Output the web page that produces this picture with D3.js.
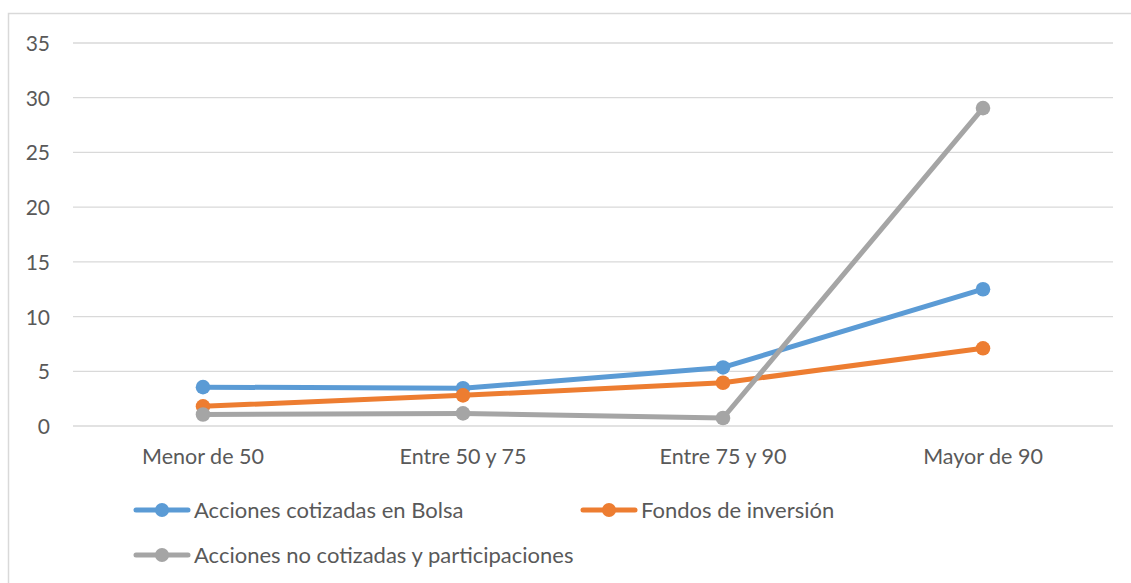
<!DOCTYPE html>
<html>
<head>
<meta charset="utf-8">
<script src="https://cdn.jsdelivr.net/npm/d3@7"></script>
<style>
  body { margin: 0; background: #fff; }
  text { font-family: Lato, "Open Sans", sans-serif; fill: #595959; }
</style>
</head>
<body>
<div id="chart"></div>
<script>
const width = 1131;
const height = 583;

const categories = ["Menor de 50", "Entre 50 y 75", "Entre 75 y 90", "Mayor de 90"];
const seriesNames = ["Acciones cotizadas en Bolsa", "Fondos de inversión", "Acciones no cotizadas y participaciones"];
const cotizadas = [3.55, 3.45, 5.35, 12.5];
const fondos = [1.8, 2.8, 3.95, 7.1];
const noCotizadas = [1.05, 1.15, 0.73, 29.05];
const yTicks = [0, 5, 10, 15, 20, 25, 30, 35];
const colors = ["#5B9BD5", "#ED7D31", "#A5A5A5"];

const series = [cotizadas, fondos, noCotizadas].map((values, i) => ({
  name: seriesNames[i],
  color: colors[i],
  values: values
}));

const margin = { left: 73, right: 18, top: 43, bottom: 157 };

const svg = d3.select("#chart")
  .append("svg")
  .attr("width", width)
  .attr("height", height);

// chart area border
svg.append("rect")
  .attr("x", 8.5)
  .attr("y", 13.5)
  .attr("width", width)
  .attr("height", height)
  .attr("fill", "none")
  .attr("stroke", "#d9d9d9")
  .attr("stroke-width", 1.5);

const x = d3.scaleBand()
  .domain(categories)
  .range([margin.left, width - margin.right]);

const y = d3.scaleLinear()
  .domain([0, 35])
  .range([height - margin.bottom, margin.top]);

// Gridlines
svg.append("g")
  .selectAll("line")
  .data(yTicks)
  .join("line")
  .attr("x1", margin.left)
  .attr("x2", width - margin.right)
  .attr("y1", d => y(d))
  .attr("y2", d => y(d))
  .attr("stroke", "#d9d9d9")
  .attr("stroke-width", 1.3);

// Y axis labels
const yAxis = d3.axisLeft(y).tickValues(yTicks).tickSize(0).tickPadding(0);
svg.append("g")
  .attr("transform", `translate(50,0)`)
  .call(yAxis)
  .call(g => g.select(".domain").remove())
  .call(g => g.selectAll("text")
    .attr("dy", "0.36em")
    .style("font-size", "21px")
    .style("fill", "#595959")
    .style("font-family", "Lato, 'Open Sans', sans-serif"));

// X axis labels
const xAxis = d3.axisBottom(x).tickSize(0).tickPadding(0);
svg.append("g")
  .attr("transform", `translate(0,${y(0) + 38})`)
  .call(xAxis)
  .call(g => g.select(".domain").remove())
  .call(g => g.selectAll("text")
    .attr("dy", "0")
    .style("font-size", "21.5px")
    .style("fill", "#595959")
    .style("font-family", "Lato, 'Open Sans', sans-serif"));

const cx = c => x(c) + x.bandwidth() / 2;

const line = d3.line()
  .x((d, i) => cx(categories[i]))
  .y(d => y(d));

const lines = svg.append("g");
series.forEach(s => {
  const g = lines.append("g");
  g.append("path")
    .attr("d", line(s.values))
    .attr("fill", "none")
    .attr("stroke", s.color)
    .attr("stroke-width", 5)
    .attr("stroke-linejoin", "round")
    .attr("stroke-linecap", "round");
  g.selectAll("circle")
    .data(s.values)
    .join("circle")
    .attr("cx", (d, i) => cx(categories[i]))
    .attr("cy", d => y(d))
    .attr("r", 7.3)
    .attr("fill", s.color);
});

// Legend
const legendPos = [[134, 510], [581, 510], [134, 555]];
const legend = svg.append("g");
series.forEach((s, i) => {
  const [lx, ly] = legendPos[i];
  const g = legend.append("g").attr("transform", `translate(${lx},${ly})`);
  g.append("line")
    .attr("x1", 2).attr("x2", 54)
    .attr("stroke", s.color)
    .attr("stroke-width", 5)
    .attr("stroke-linecap", "round");
  g.append("circle")
    .attr("cx", 28)
    .attr("r", 7)
    .attr("fill", s.color);
  g.append("text")
    .attr("x", 60)
    .attr("dy", "0.36em")
    .style("font-size", "22px")
    .text(s.name);
});
</script>
</body>
</html>
